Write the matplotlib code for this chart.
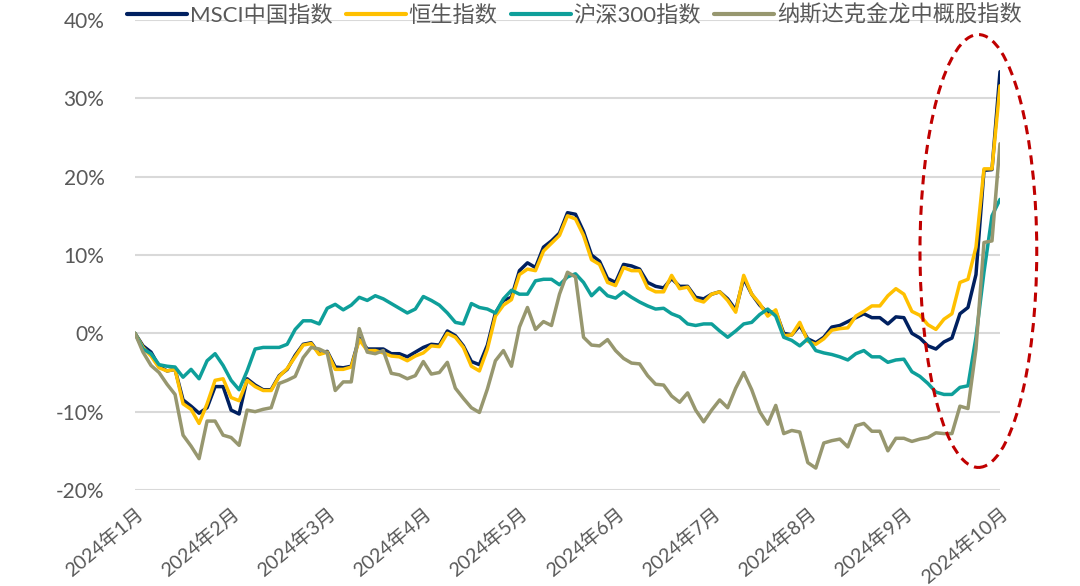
import numpy as np
import matplotlib
matplotlib.use("Agg")
import matplotlib.pyplot as plt
from matplotlib.patches import Ellipse

plt.rcParams['font.family'] = ['Lato', 'Noto Sans CJK SC', 'DejaVu Sans']

# --- data (cumulative return, %) ---
month_labels = ["2024年1月", "2024年2月", "2024年3月", "2024年4月", "2024年5月",
                "2024年6月", "2024年7月", "2024年8月", "2024年9月", "2024年10月"]

msci_china = [
    0, -1.6, -2.4, -4.2, -4.8, -4.6, -8.5, -9.3, -10.2, -9.5,
    -6.8, -6.8, -9.8, -10.3, -5.8, -6.6, -7.2, -7.2, -5.4, -4.6,
    -2.8, -1.4, -1.2, -2.6, -2.3, -4.3, -4.4, -4.2, -0.6, -2.0,
    -2.0, -2.0, -2.6, -2.6, -3.0, -2.4, -1.8, -1.4, -1.5, 0.3,
    -0.3, -1.6, -3.6, -4.0, -1.5, 2.6, 4.2, 4.6, 8.0, 9.0,
    8.4, 11.0, 11.8, 12.8, 15.4, 15.2, 13.0, 10.0, 9.2, 7.0,
    6.5, 8.8, 8.6, 8.2, 6.5, 6.0, 5.8, 7.0, 6.0, 6.0,
    4.6, 4.4, 5.0, 5.3, 4.4, 3.0, 7.0, 5.0, 3.6, 2.6,
    2.8, 0.0, -0.2, 1.0, -0.7, -1.2, -0.5, 0.8, 1.0, 1.5,
    2.0, 2.5, 2.0, 2.0, 1.2, 2.1, 2.0, 0.0, -0.6, -1.6,
    -2.0, -1.1, -0.6, 2.5, 3.3, 7.5, 20.8, 20.9, 33.4,
]

hang_seng = [
    0, -1.8, -2.9, -4.4, -4.8, -4.6, -9.0, -9.7, -11.5, -9.0,
    -6.0, -5.8, -8.2, -8.6, -6.0, -6.8, -7.3, -7.3, -5.5, -4.5,
    -3.0, -1.5, -1.3, -2.7, -2.4, -4.6, -4.6, -4.3, -0.8, -2.2,
    -2.2, -2.5, -2.9, -3.0, -3.5, -2.9, -2.5, -1.6, -1.7, 0.0,
    -0.5, -1.8, -4.2, -4.8, -2.0, 2.2, 3.6, 4.3, 7.5, 8.2,
    8.0, 10.5, 11.5, 12.5, 15.0, 14.6, 12.5, 9.4, 8.8, 6.5,
    6.1, 8.4, 8.0, 8.0, 5.8, 5.3, 5.3, 7.4, 5.7, 5.9,
    4.3, 4.0, 5.0, 5.3, 4.2, 2.7, 7.4, 5.0, 3.8, 2.2,
    3.0, -0.3, -0.2, 1.4, -1.0, -1.4, -0.7, 0.4, 0.6, 0.7,
    2.2, 2.8, 3.5, 3.5, 4.8, 5.7, 5.0, 2.8, 2.3, 1.1,
    0.5, 1.8, 2.5, 6.5, 6.9, 11.0, 21.0, 21.0, 31.6,
]

csi300 = [
    0, -2.0, -2.6, -4.0, -4.2, -4.3, -5.6, -4.6, -5.8, -3.5,
    -2.6, -4.1, -6.0, -7.2, -4.8, -2.0, -1.8, -1.8, -1.8, -1.4,
    0.5, 1.6, 1.6, 1.2, 3.2, 3.7, 3.0, 3.6, 4.6, 4.2,
    4.8, 4.4, 3.8, 3.2, 2.6, 3.1, 4.7, 4.2, 3.6, 2.6,
    1.4, 1.2, 3.8, 3.3, 3.1, 2.6, 4.4, 5.5, 5.0, 5.0,
    6.7, 6.9, 6.9, 6.2, 7.2, 7.6, 6.5, 4.8, 5.8, 4.8,
    4.5, 5.3, 4.6, 4.0, 3.5, 3.1, 3.2, 2.5, 2.1, 1.2,
    1.0, 1.2, 1.2, 0.3, -0.5, 0.3, 1.2, 1.4, 2.4, 3.1,
    2.2, -0.5, -0.9, -1.6, -0.7, -2.2, -2.5, -2.7, -3.0, -3.4,
    -2.6, -2.2, -3.0, -3.0, -3.7, -3.4, -3.3, -4.9, -5.5, -6.4,
    -7.5, -7.8, -7.8, -6.9, -6.7, -0.5, 7.8, 15.0, 17.1,
]

nasdaq_golden_dragon = [
    0, -2.4, -4.1, -5.0, -6.5, -7.8, -13.0, -14.4, -16.0, -11.2,
    -11.2, -13.0, -13.3, -14.3, -9.8, -10.0, -9.7, -9.5, -6.4, -6.0,
    -5.5, -3.1, -1.8, -2.0, -2.5, -7.3, -6.2, -6.2, 0.6, -2.4,
    -2.6, -2.2, -5.1, -5.3, -5.8, -5.4, -3.6, -5.2, -5.0, -3.7,
    -7.0, -8.3, -9.5, -10.1, -7.1, -3.5, -2.2, -4.2, 0.8, 3.3,
    0.5, 1.5, 1.0, 5.0, 7.8, 7.2, -0.5, -1.5, -1.6, -0.8,
    -2.2, -3.2, -3.8, -3.9, -5.4, -6.5, -6.6, -8.0, -8.8, -7.6,
    -9.8, -11.3, -9.8, -8.5, -9.5, -7.0, -5.0, -7.2, -10.0, -11.6,
    -9.2, -12.8, -12.4, -12.6, -16.5, -17.2, -14.0, -13.7, -13.5, -14.5,
    -11.8, -11.5, -12.5, -12.5, -15.0, -13.4, -13.4, -13.8, -13.5, -13.3,
    -12.7, -12.8, -12.8, -9.3, -9.6, -2.0, 11.6, 11.8, 24.2,
]

series_names = ["MSCI中国指数", "恒生指数", "沪深300指数", "纳斯达克金龙中概股指数"]
series_colors = ["#002060", "#FFC000", "#0E9F9A", "#97976F"]

# --- plot ---
fig = plt.figure(figsize=(10.8, 5.86), dpi=100)
ax = fig.add_axes([135 / 1080, 1 - 490 / 586, 865 / 1080, 470 / 586])

x = np.arange(len(msci_china))
all_series = [msci_china, hang_seng, csi300, nasdaq_golden_dragon]
for i, (vals, name, col) in enumerate(zip(all_series, series_names, series_colors)):
    ax.plot(x, vals, color=col, lw=2.5, label=name, zorder=3 + i,
            solid_joinstyle='round', solid_capstyle='round')

ax.set_xlim(0, len(x) - 1)
ax.set_ylim(-20, 40)
ax.set_yticks(np.arange(-20, 41, 10))
ax.set_yticklabels([f"{v}%" for v in range(-20, 41, 10)])
ax.yaxis.grid(True, color="#D9D9D9", lw=1.5)
ax.set_axisbelow(True)

ticks = np.linspace(0, len(x) - 1, len(month_labels))
ax.set_xticks(ticks)
ax.set_xticklabels(month_labels, rotation=40, ha='right', va='top',
                   rotation_mode='anchor')

for s in ax.spines.values():
    s.set_visible(False)
ax.tick_params(axis='y', length=0, labelsize=15, colors="#595959", pad=22)
ax.tick_params(axis='x', length=0, labelsize=14, colors="#595959", pad=10)

# red dashed ellipse highlighting the recent rally
ell = Ellipse((0.975, 0.5085), 0.135, 0.921, transform=ax.transAxes,
              fill=False, ec="#C00000", lw=2.2, ls=(0, (3, 2)), clip_on=False,
              zorder=10)
ax.add_patch(ell)

leg = fig.legend(loc='upper left', bbox_to_anchor=(127 / 1080, 1 - 5 / 586),
                 ncol=4, frameon=False, fontsize=16, handlelength=2.7,
                 handletextpad=0.12, columnspacing=0.6, borderpad=0,
                 borderaxespad=0)
for t in leg.get_texts():
    t.set_color("#595959")
for h in leg.get_lines():
    h.set_linewidth(3)

fig.savefig("out.png", dpi=100)
